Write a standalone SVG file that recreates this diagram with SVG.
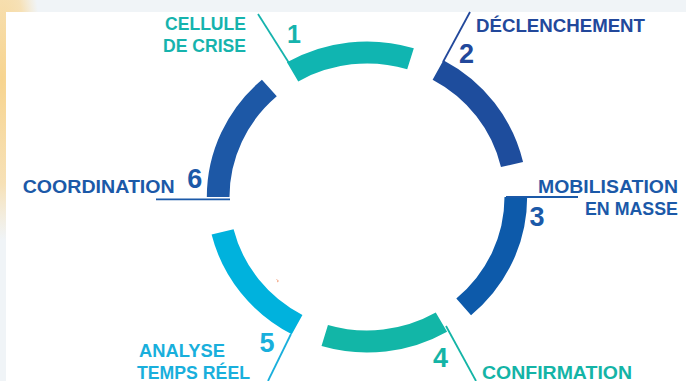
<svg xmlns="http://www.w3.org/2000/svg" width="686" height="381" viewBox="0 0 686 381">
<defs>
<radialGradient id="warm" cx="0.5" cy="0.5" r="0.5">
<stop offset="0" stop-color="#f7d48e" stop-opacity="1"/>
<stop offset="0.65" stop-color="#f8dca6" stop-opacity="0.8"/>
<stop offset="1" stop-color="#f9e2b4" stop-opacity="0"/>
</radialGradient>
</defs>
<style>
.seg{fill:none;stroke-width:22;stroke-linecap:butt}
.lead{fill:none;stroke-width:1.8}
.lbl{font-family:"Liberation Sans",Arial,sans-serif;font-weight:bold;font-size:18.5px}
.num{font-family:"Liberation Sans",Arial,sans-serif;font-weight:bold;font-size:27px;text-anchor:middle}
.teal{fill:#16b3ad}
.teal2{fill:#14b4a6}
.dblue{fill:#22489b}
.blue{fill:#1b59a8}
.lblue{fill:#19afdc}
</style>
<rect x="0" y="0" width="686" height="381" fill="#f0f4f7"/>
<ellipse cx="2" cy="80" rx="40" ry="160" fill="url(#warm)"/>
<rect x="6" y="12" width="680" height="369" fill="#ffffff"/>
<path d="M276.5 279.5 l2 1.5 l-1.5 1" fill="none" stroke="#f4a582" stroke-width="1"/>

<g id="ring" transform="translate(367 197) scale(1.03 1)">
<g id="node-1"><path class="seg" stroke="#10b5b1" d="M-72.25 -125.14 A144.5 144.5 0 0 1 42.25 -138.19"/></g>
<g id="node-2"><path class="seg" stroke="#1e4d9d" d="M68.95 -126.99 A144.5 144.5 0 0 1 140.80 -32.51"/></g>
<g id="node-3"><path class="seg" stroke="#0d5aaa" d="M144.5 0 A144.5 144.5 0 0 1 93.85 109.88"/></g>
<g id="node-4"><path class="seg" stroke="#12b6a7" d="M72.25 125.14 A144.5 144.5 0 0 1 -41.04 138.55"/></g>
<g id="node-5"><path class="seg" stroke="#00b2dd" d="M-67.84 127.59 A144.5 144.5 0 0 1 -140.21 34.96"/></g>
<g id="node-6"><path class="seg" stroke="#1d58a6" d="M-144.5 0 A144.5 144.5 0 0 1 -94.80 -109.06"/></g>
</g>

<g id="connectors">
<line class="lead" stroke="#16b3ad" x1="258" y1="14" x2="289" y2="63"/>
<line class="lead" stroke="#22489b" x1="470" y1="12" x2="443" y2="62"/>
<line class="lead" stroke="#1b59a8" x1="506" y1="197" x2="578" y2="197"/>
<line class="lead" stroke="#14b4a6" x1="446" y1="326" x2="476" y2="381"/>
<line class="lead" stroke="#19afdc" x1="291" y1="334" x2="268" y2="381"/>
<line class="lead" stroke="#1b59a8" x1="156" y1="199.3" x2="230" y2="199.3"/>
</g>

<g id="label-1">
<text class="lbl teal" x="246" y="30" text-anchor="end" textLength="81" lengthAdjust="spacingAndGlyphs">CELLULE</text>
<text class="lbl teal" x="246" y="51.5" text-anchor="end" textLength="83" lengthAdjust="spacingAndGlyphs">DE CRISE</text>
<text class="num teal" x="294" y="43" style="font-size:25px">1</text>
</g>
<g id="label-2">
<text class="lbl dblue" x="476" y="31.5" textLength="169" lengthAdjust="spacingAndGlyphs">DÉCLENCHEMENT</text>
<text class="num dblue" x="466.5" y="63">2</text>
</g>
<g id="label-3">
<text class="lbl blue" x="678" y="193.3" text-anchor="end" textLength="140" lengthAdjust="spacingAndGlyphs">MOBILISATION</text>
<text class="lbl blue" x="678" y="215" text-anchor="end" textLength="93" lengthAdjust="spacingAndGlyphs">EN MASSE</text>
<text class="num blue" x="537" y="226">3</text>
</g>
<g id="label-4">
<text class="lbl teal2" x="482" y="378.5" textLength="150" lengthAdjust="spacingAndGlyphs">CONFIRMATION</text>
<text class="num teal2" x="440.5" y="367">4</text>
</g>
<g id="label-5">
<text class="lbl lblue" x="139" y="356.5" textLength="86" lengthAdjust="spacingAndGlyphs">ANALYSE</text>
<text class="lbl lblue" x="137" y="378.5" textLength="113" lengthAdjust="spacingAndGlyphs">TEMPS RÉEL</text>
<text class="num lblue" x="267" y="352">5</text>
</g>
<g id="label-6">
<text class="lbl blue" x="22.7" y="192.7" textLength="152" lengthAdjust="spacingAndGlyphs">COORDINATION</text>
<text class="num blue" x="194.7" y="188.3">6</text>
</g>
</svg>
